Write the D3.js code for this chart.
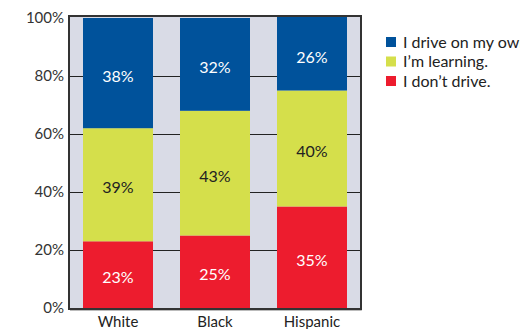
<!DOCTYPE html>
<html><head><meta charset="utf-8">
<script src="https://cdn.jsdelivr.net/npm/d3@7"></script>
<style>body{margin:0;background:#fff}svg{display:block}</style>
</head><body>
<svg id="c" width="520" height="329"></svg>
<script>
const categories = ["White", "Black", "Hispanic"];
const seriesNames = ["I don\u2019t drive.", "I\u2019m learning.", "I drive on my own."];
const dontDrive = [23, 25, 35];
const learning = [39, 43, 40];
const driveOwn = [38, 32, 26];
const yTicks = [0, 20, 40, 60, 80, 100];
const colors = ["#ed1c2e", "#d5df4b", "#00529b"];
const textColors = ["#fff", "#222", "#fff"];

const svg = d3.select("#c");
const font = "Lato, 'Open Sans', sans-serif";
const L = 70, R = 360, T = 18, B = 308;
const x = d3.scaleBand().domain(categories).range([L, R]).paddingInner(27/97).paddingOuter(13/97);
const y = d3.scaleLinear().domain([0, 100]).range([B, T]);

svg.append("defs").append("clipPath").attr("id", "clip")
  .append("rect").attr("x", L).attr("y", T - 1).attr("width", R - L).attr("height", B - T + 1);

svg.append("rect").attr("x", L).attr("y", T - 1).attr("width", R - L).attr("height", B - T + 1).attr("fill", "#d9dbe6");

// gridlines
svg.append("g").selectAll("line").data(yTicks.filter(d => d > 0 && d < 100)).join("line")
  .attr("x1", L).attr("x2", R).attr("y1", d => Math.round(y(d)) + 0.5).attr("y2", d => Math.round(y(d)) + 0.5)
  .attr("stroke", "#222").attr("stroke-width", 1);

const series = [dontDrive, learning, driveOwn];
const rows = categories.map((c, i) => {
  const o = {cat: c};
  seriesNames.forEach((s, j) => o[s] = series[j][i]);
  return o;
});
const stack = d3.stack().keys(seriesNames)(rows);

const g = svg.append("g").attr("clip-path", "url(#clip)");
stack.forEach((layer, j) => {
  g.selectAll(null).data(layer).join("rect")
    .attr("x", d => x(d.data.cat)).attr("width", x.bandwidth())
    .attr("y", d => y(d[1])).attr("height", d => y(d[0]) - y(d[1]))
    .attr("fill", colors[j]);
  svg.selectAll(null).data(layer).join("text")
    .attr("x", d => x(d.data.cat) + x.bandwidth() / 2)
    .attr("y", d => (y(d[0]) + y(Math.min(d[1], 100))) / 2 + 3)
    .attr("dy", "0.35em").attr("text-anchor", "middle")
    .attr("font-family", font).attr("font-size", 16).attr("fill", textColors[j])
    .text(d => (d[1] - d[0]) + "%");
});

// frame shadow + frame
svg.append("path").attr("d", `M${R + 1.5},${T} V${B + 2.5} H${L}`)
  .attr("fill", "none").attr("stroke", "#bbb").attr("stroke-width", 1);
svg.append("rect").attr("x", L - 1).attr("y", T - 2).attr("width", R - L + 2).attr("height", B - T + 3)
  .attr("fill", "none").attr("stroke", "#333").attr("stroke-width", 2);

// y axis labels
const yAxis = d3.axisLeft(y).tickValues(yTicks).tickFormat(d => d + "%").tickSize(0).tickPadding(5);
const ya = svg.append("g").attr("transform", `translate(${L - 1},0)`).call(yAxis);
ya.select(".domain").remove();
ya.selectAll("text").attr("font-family", font).attr("font-size", 15).attr("fill", "#333");

// x axis labels
const xAxis = d3.axisBottom(x).tickSize(0).tickPadding(8);
const xa = svg.append("g").attr("transform", `translate(0,${B})`).call(xAxis);
xa.select(".domain").remove();
xa.selectAll("text").attr("font-family", font).attr("font-size", 15).attr("fill", "#222");

// legend
const legendOrder = [2, 1, 0];
const lg = svg.append("g");
legendOrder.forEach((j, k) => {
  const yy = 37 + k * 19.5;
  lg.append("rect").attr("x", 386).attr("y", yy).attr("width", 10).attr("height", 10).attr("fill", colors[j]);
  lg.append("text").attr("x", 403).attr("y", yy + 5).attr("dy", "0.35em")
    .attr("font-family", font).attr("font-size", 16).attr("fill", "#222").text(seriesNames[j]);
});
</script>
</body></html>
